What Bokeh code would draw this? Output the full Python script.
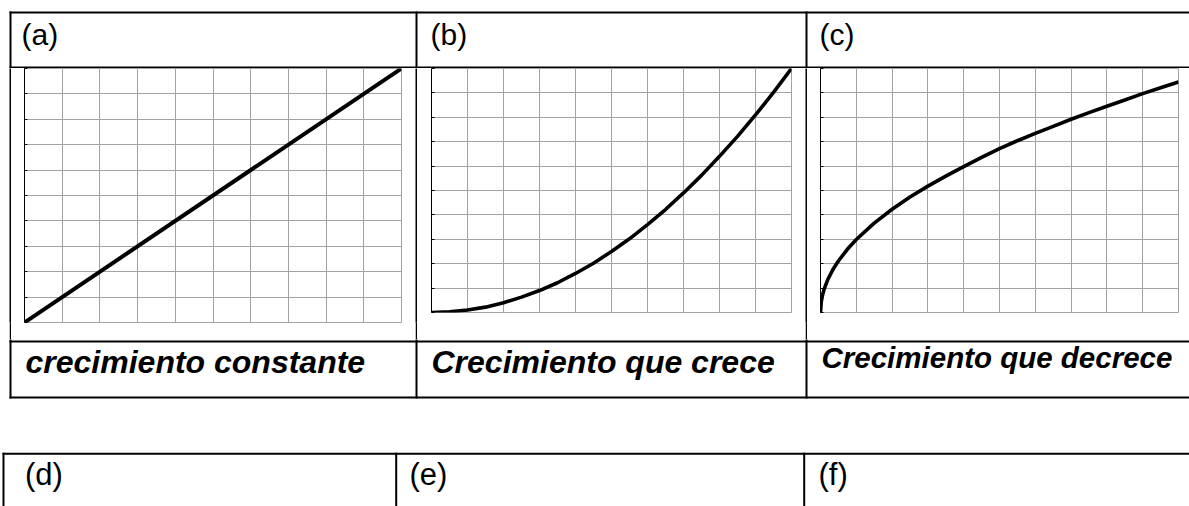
from bokeh.plotting import figure
from bokeh.layouts import column, row
from bokeh.models import Range1d, FixedTicker, Spacer
from bokeh.core.properties import value
from bokeh.embed import file_html
from bokeh.resources import INLINE

# ---------------- data ----------------
panel_labels_top = ["(a)", "(b)", "(c)"]
panel_labels_bottom = ["(d)", "(e)", "(f)"]
captions = ["crecimiento constante", "Crecimiento que crece", "Crecimiento que decrece"]

grid_ticks = [0, 1, 2, 3, 4, 5, 6, 7, 8, 9, 10]

# (a) constant growth
xa = [0, 10]
ya = [0, 10]

# (b) growth that grows
xb = [0, 0.5, 1, 1.5, 2, 2.5, 3, 3.5, 4, 4.5, 5, 5.5, 6, 6.5, 7, 7.5, 8, 8.5, 9, 9.5, 10]
yb = [0, 0.03, 0.1, 0.22, 0.4, 0.63, 0.9, 1.22, 1.6, 2.02, 2.5, 3.02, 3.6, 4.22, 4.9,
      5.62, 6.4, 7.22, 8.1, 9.02, 10.0]

# (c) growth that decreases
xc = [0, 0.02, 0.05, 0.1, 0.2, 0.35, 0.5, 0.75, 1, 1.5, 2, 2.5, 3, 3.5, 4, 4.5, 5, 5.5,
      6, 6.5, 7, 7.5, 8, 8.5, 9, 9.5, 10]
yc = [0, 0.42, 0.67, 0.95, 1.34, 1.77, 2.11, 2.59, 2.99, 3.66, 4.23, 4.73, 5.18, 5.59,
      5.98, 6.36, 6.72, 7.04, 7.34, 7.63, 7.92, 8.19, 8.45, 8.71, 8.97, 9.21, 9.45]

FONT = "Liberation Sans"
GRID_COLOR = "#a3a3a3"


def canvas(w, h, x0, x1, y0, y1):
    p = figure(width=w, height=h, x_range=Range1d(x0, x1), y_range=Range1d(y1, y0),
               output_backend="svg", toolbar_location=None, title=None,
               min_border=0, x_axis_location=None, y_axis_location=None)
    p.xgrid.visible = False
    p.ygrid.visible = False
    p.outline_line_color = None
    return p


def rule(h):
    # a thin solid black vertical table rule
    p = figure(width=2, height=h, x_range=Range1d(0, 1), y_range=Range1d(0, 1),
               output_backend="svg", toolbar_location=None, title=None,
               min_border=0, x_axis_location=None, y_axis_location=None,
               background_fill_color="black", border_fill_color="black")
    p.xgrid.visible = False
    p.ygrid.visible = False
    p.outline_line_color = None
    return p


def chart(w, h, left, right, bottom, xs, ys, lw):
    p = figure(width=w, height=h, x_range=Range1d(0, 10), y_range=Range1d(0, 10),
               output_backend="svg", toolbar_location=None, title=None,
               min_border_left=left, min_border_right=right, min_border_top=0,
               min_border_bottom=bottom, x_axis_location=None, y_axis_location="left")
    ax = p.yaxis[0]
    ax.ticker = FixedTicker(ticks=grid_ticks)
    ax.major_label_text_color = None
    ax.major_label_text_font_size = "1px"
    ax.major_label_standoff = 0
    ax.major_tick_in = 3
    ax.major_tick_out = 0
    ax.minor_tick_line_color = None
    ax.axis_line_color = "black"
    ax.major_tick_line_color = "black"
    p.xgrid.ticker = FixedTicker(ticks=grid_ticks)
    p.ygrid.ticker = FixedTicker(ticks=grid_ticks)
    p.xgrid.grid_line_color = GRID_COLOR
    p.ygrid.grid_line_color = GRID_COLOR
    p.outline_line_color = GRID_COLOR
    p.line(xs, ys, line_color="black", line_width=lw, line_join="round")
    return p


# ---------------- header row ----------------
top = canvas(1189, 68, 0, 1189, 0, 68)
top.segment(x0=[9, 9], y0=[12, 67], x1=[1195, 1195], y1=[12, 67], line_color="black", line_width=2)
top.segment(x0=[10, 416, 806], y0=[11, 11, 11], x1=[10, 416, 806], y1=[69, 69, 69],
            line_color="black", line_width=2)
top.text(x=[21, 430, 819], y=[34, 34, 34], text=panel_labels_top, text_font=value(FONT),
         text_font_size="30px", text_baseline="alphabetic", text_color="black")

# ---------------- chart row ----------------
H = 271
ca = chart(404, H, 13, 14, 17, xa, ya, 4)
cb = chart(388, H - 10, 14, 14, 17, xb, yb, 3.6)
cc = chart(382, H - 10, 13, 11, 17, xc, yc, 3.6)

chart_row = row(Spacer(width=9, height=H), rule(H), ca, rule(H), cb, rule(H), cc)

# ---------------- caption row + second table ----------------
bot = canvas(1189, 167, 0, 1189, 339, 506)
bot.segment(x0=[9, 9], y0=[341, 397], x1=[1195, 1195], y1=[341, 397], line_color="black", line_width=2)
bot.segment(x0=[10, 416, 806], y0=[338, 338, 338], x1=[10, 416, 806], y1=[398, 398, 398],
            line_color="black", line_width=2)
bot.text(x=[25, 431], y=[361, 361], text=captions[:2], text_font=value(FONT),
         text_font_size="32px", text_font_style="bold italic", text_baseline="alphabetic",
         text_color="black")
bot.text(x=[821], y=[357], text=captions[2:], text_font=value(FONT),
         text_font_size="29.5px", text_font_style="bold italic", text_baseline="alphabetic",
         text_color="black")

bot.segment(x0=[2], y0=[453.3], x1=[1195], y1=[453.3], line_color="black", line_width=2)
bot.segment(x0=[3, 395.7, 803.7], y0=[452.3, 452.3, 452.3], x1=[3, 395.7, 803.7],
            y1=[512, 512, 512], line_color="black", line_width=2)
bot.text(x=[24.5, 409, 818], y=[474, 474, 474], text=panel_labels_bottom, text_font=value(FONT),
         text_font_size="31px", text_baseline="alphabetic", text_color="black")

layout = column(top, chart_row, bot)

open("out.html", "w").write(file_html(layout, INLINE))
